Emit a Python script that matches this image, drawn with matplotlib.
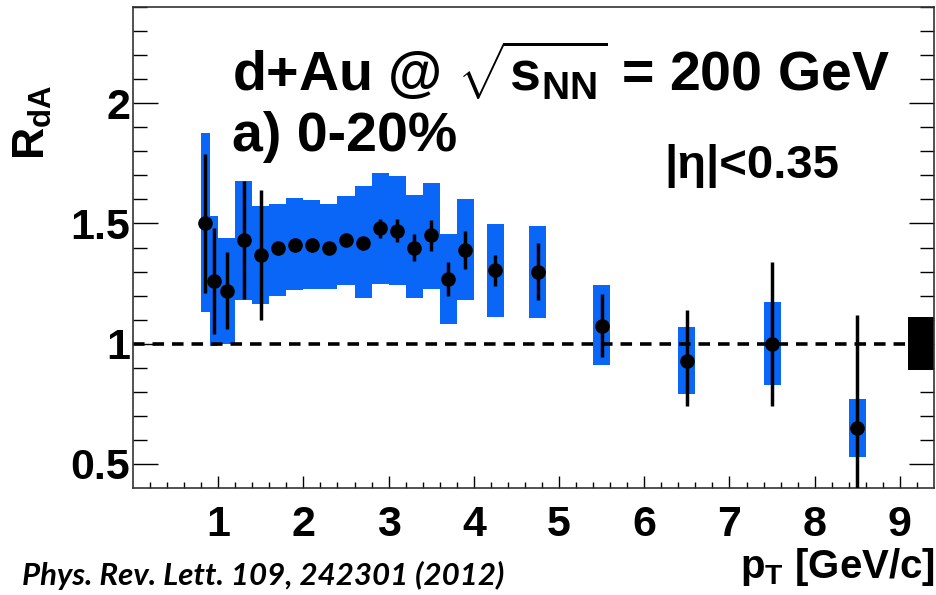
import matplotlib
matplotlib.use("Agg")
import matplotlib.pyplot as plt
import numpy as np

plt.rcParams['font.family'] = ['Liberation Sans', 'DejaVu Sans']
plt.rcParams['font.weight'] = 'bold'
plt.rcParams['mathtext.fontset'] = 'custom'
plt.rcParams['mathtext.rm'] = 'Liberation Sans:bold'
plt.rcParams['mathtext.it'] = 'Liberation Sans:bold'
plt.rcParams['mathtext.bf'] = 'Liberation Sans:bold'

# R_dA vs pT, d+Au 0-20%
pt = [0.85, 0.95, 1.1, 1.3, 1.5, 1.7, 1.9, 2.1, 2.3, 2.5, 2.7, 2.9, 3.1, 3.3,
      3.5, 3.7, 3.9, 4.25, 4.75, 5.5, 6.5, 7.5, 8.5]
rda = [1.50, 1.26, 1.22, 1.43, 1.37, 1.40, 1.41, 1.41, 1.40, 1.43, 1.42, 1.48,
       1.47, 1.40, 1.45, 1.27, 1.39, 1.305, 1.30, 1.075, 0.93, 1.00, 0.65]
stat_lo = [0.29, 0.22, 0.16, 0.245, 0.27, 0.02, 0.02, 0.02, 0.02, 0.02, 0.02, 0.04,
           0.047, 0.055, 0.063, 0.07, 0.08, 0.065, 0.117, 0.132, 0.19, 0.26, 0.47]
stat_hi = [0.29, 0.22, 0.16, 0.245, 0.27, 0.02, 0.02, 0.02, 0.02, 0.02, 0.02, 0.04,
           0.047, 0.055, 0.063, 0.07, 0.08, 0.065, 0.117, 0.132, 0.21, 0.34, 0.47]
# systematic boxes
box_x0 = [0.80, 0.90, 1.00, 1.20, 1.40, 1.60, 1.80, 2.00, 2.20, 2.40, 2.60, 2.80,
          3.00, 3.20, 3.40, 3.60, 3.80, 4.15, 4.65, 5.40, 6.40, 7.40, 8.40]
box_x1 = [0.90, 1.00, 1.20, 1.40, 1.60, 1.80, 2.00, 2.20, 2.40, 2.60, 2.80, 3.00,
          3.20, 3.40, 3.60, 3.80, 4.00, 4.35, 4.85, 5.60, 6.60, 7.60, 8.60]
sys_lo = [1.133, 0.99, 1.00, 1.18, 1.167, 1.20, 1.222, 1.226, 1.229, 1.243, 1.19, 1.247,
          1.243, 1.19, 1.229, 1.083, 1.183, 1.11, 1.107, 0.912, 0.79, 0.829, 0.53]
sys_hi = [1.875, 1.53, 1.44, 1.676, 1.574, 1.583, 1.604, 1.597, 1.583, 1.614, 1.657, 1.711,
          1.697, 1.618, 1.667, 1.458, 1.60, 1.496, 1.489, 1.246, 1.069, 1.174, 0.771]
# normalisation uncertainty
norm_unc = 0.11

blue = '#0a66f7'

fig = plt.figure(figsize=(9.37, 5.95), dpi=100)
ax = fig.add_axes([0.1419, 0.1798, 0.9968 - 0.1419, 0.9882 - 0.1798])

x0 = np.array(box_x0)
x1 = np.array(box_x1)
lo = np.array(sys_lo)
hi = np.array(sys_hi)
ax.bar(x0, hi - lo, width=x1 - x0, bottom=lo, align='edge', color=blue,
       linewidth=0, zorder=1)

ax.plot([0, 9.1], [1, 1], color='black', lw=2.6, ls=(0, (3.2, 2.2)), zorder=2)
ax.bar(9.1, 2 * norm_unc, width=0.3, bottom=1 - norm_unc, align='edge',
       color='black', linewidth=0, zorder=2)

ax.errorbar(pt, rda, yerr=[stat_lo, stat_hi], fmt='o', color='black', ms=9.5,
            elinewidth=2.5, capsize=0, zorder=3)

ax.set_xlim(0, 9.4)
ax.set_ylim(0.4, 2.4)
ax.set_xticks(np.arange(1, 10, 1))
ax.set_xticks(np.arange(0.2, 9.4, 0.2), minor=True)
ax.set_yticks([0.5, 1, 1.5, 2])
ax.set_yticklabels(['0.5', '1', '1.5', '2'])
ax.set_yticks(np.arange(0.5, 2.41, 0.1), minor=True)
ax.tick_params(axis='x', which='major', direction='in', length=9, width=1,
               labelsize=31, pad=12)
ax.tick_params(axis='x', which='minor', direction='in', length=4.5, width=1)
ax.tick_params(axis='y', which='major', direction='in', length=18, width=1,
               labelsize=31, pad=2, right=True)
ax.tick_params(axis='y', which='minor', direction='in', length=10, width=1,
               right=True)
for s in ax.spines.values():
    s.set_linewidth(1.2)
    s.set_color('#333333')

ax.text(0.124, 0.826, r'd+Au @ $\sqrt{\mathrm{s}_{\mathrm{NN}}}$ = 200 GeV', transform=ax.transAxes,
        fontsize=40, fontweight='bold', va='baseline')
ax.text(0.124, 0.70, 'a) 0-20%', transform=ax.transAxes,
        fontsize=40, fontweight='bold', va='baseline')
ax.text(0.663, 0.645, '|η|<0.35', transform=ax.transAxes,
        fontsize=34, fontweight='bold', va='baseline')

fig.text(33 / 937, 1 - 85 / 595, r'R$_{\mathrm{dA}}$', rotation=90, fontsize=32,
         fontweight='bold', ha='center', va='top')
fig.text(935 / 937, 1 - 578 / 595, r'p$_{\mathrm{T}}$ [GeV/c]', fontsize=29,
         fontweight='bold', ha='right', va='baseline')
fig.text(22 / 937, 1 - 585 / 595, 'Phys. Rev. Lett. 109, 242301 (2012)',
         family=['Lato', 'DejaVu Sans'], style='italic', fontweight='bold',
         fontsize=22.5, ha='left', va='baseline')

fig.savefig('out.png', dpi=100)
